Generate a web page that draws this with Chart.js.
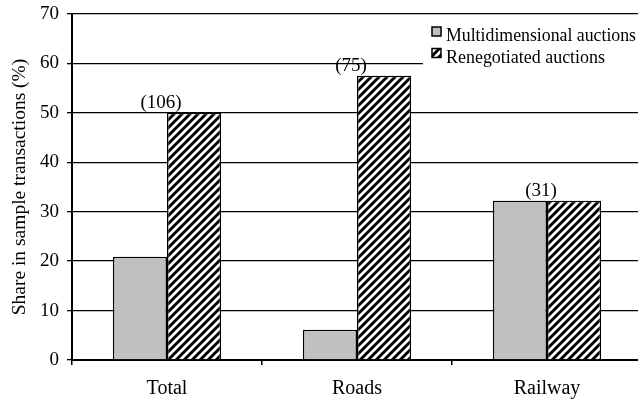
<!DOCTYPE html>
<html>
<head>
<meta charset="utf-8">
<script src="https://cdn.jsdelivr.net/npm/chart.js@4"></script>
<style>
  html, body { margin: 0; padding: 0; background: #fff; overflow: hidden; }
  #wrap { width: 642px; height: 403px; }
</style>
</head>
<body>
<div id="wrap"><canvas id="chart"></canvas></div>
<script>
// ===================
// Data
// ===================
const categories = ["Total", "Roads", "Railway"];
const multidimensional = [20.9, 6.1, 32.2];
const renegotiated = [50.0, 57.5, 32.2];
const sampleSizes = ["(106)", "(75)", "(31)"];
const seriesNames = ["Multidimensional auctions", "Renegotiated auctions"];
const yTicks = [0, 10, 20, 30, 40, 50, 60, 70];

const FONT = "'Liberation Serif', 'Times New Roman', serif";

// hatch pattern (diagonal /)
function makeHatch() {
  const n = 8;
  const c = document.createElement("canvas");
  c.width = n;
  c.height = n;
  const g = c.getContext("2d");
  g.fillStyle = "#fff";
  g.fillRect(0, 0, n, n);
  g.strokeStyle = "#000";
  g.lineWidth = 3;
  g.beginPath();
  g.moveTo(-2, n + 2); g.lineTo(n + 2, -2);
  g.moveTo(-2, 2); g.lineTo(2, -2);
  g.moveTo(n - 2, n + 2); g.lineTo(n + 2, n - 2);
  g.stroke();
  return g.createPattern(c, "repeat");
}
const hatch = makeHatch();
const fills = ["#c0c0c0", hatch];

// sample sizes above each pair
const countLabels = {
  id: "countLabels",
  afterDatasetsDraw(chart) {
    const ctx = chart.ctx;
    const x = chart.scales.x;
    const y = chart.scales.y;
    ctx.save();
    ctx.font = "19px " + FONT;
    ctx.fillStyle = "#000";
    ctx.textAlign = "center";
    ctx.textBaseline = "alphabetic";
    sampleSizes.forEach((s, i) => {
      const top = Math.max(multidimensional[i], renegotiated[i]);
      ctx.fillText(s, x.getPixelForValue(i) - 6, y.getPixelForValue(top) - 5);
    });
    ctx.restore();
  },
};

// legend box in upper right
const boxLegend = {
  id: "boxLegend",
  afterDraw(chart) {
    const ctx = chart.ctx;
    const widths = [190, 159];
    ctx.save();
    ctx.fillStyle = "#fff";
    ctx.fillRect(423, chart.chartArea.top + 2, 220, 51);
    ctx.font = "19px " + FONT;
    ctx.textAlign = "left";
    ctx.textBaseline = "alphabetic";
    seriesNames.forEach((name, i) => {
      const by = 27 + i * 21.5;
      ctx.fillStyle = fills[i];
      ctx.fillRect(432, by, 9, 9);
      ctx.strokeStyle = "#000";
      ctx.lineWidth = 1.5;
      ctx.strokeRect(432, by, 9, 9);
      ctx.fillStyle = "#000";
      ctx.fillText(name, 446, by + 14, widths[i]);
    });
    ctx.restore();
  },
};

new Chart(document.getElementById("chart"), {
  type: "bar",
  data: {
    labels: categories,
    datasets: [
      {
        label: seriesNames[0],
        data: multidimensional,
        backgroundColor: fills[0],
        borderColor: "#000",
        borderWidth: 1.5,
      },
      {
        label: seriesNames[1],
        data: renegotiated,
        backgroundColor: fills[1],
        borderColor: "#000",
        borderWidth: 1.5,
      },
    ],
  },
  options: {
    responsive: true,
    maintainAspectRatio: false,
    animation: false,
    categoryPercentage: 0.57,
    barPercentage: 1,
    layout: { padding: { top: 14, right: 0, left: 0, bottom: 0 } },
    plugins: {
      legend: { display: false },
      tooltip: { enabled: false },
    },
    scales: {
      x: {
        offset: true,
        afterFit: (s) => {
          s.height = 43;
          s.paddingLeft = 0;
          s.paddingRight = 0;
        },
        grid: {
          offset: true,
          drawOnChartArea: false,
          color: "#000",
          tickLength: 5,
          lineWidth: 1.5,
        },
        border: { color: "#000", width: 2 },
        ticks: {
          color: "#000",
          font: { family: FONT, size: 20 },
          padding: 12,
        },
      },
      y: {
        min: 0,
        max: 70,
        afterFit: (s) => {
          s.width = 72;
          s.paddingTop = 0;
          s.paddingBottom = 0;
        },
        afterBuildTicks: (s) => { s.ticks = yTicks.map((v) => ({ value: v })); },
        grid: { color: "#000", lineWidth: 1.3, tickLength: 5 },
        border: { color: "#000", width: 2 },
        ticks: {
          color: "#000",
          font: { family: FONT, size: 19 },
          padding: 8,
        },
        title: {
          display: true,
          text: "Share in sample transactions (%)",
          color: "#000",
          font: { family: FONT, size: 19.5 },
          padding: { top: 8, bottom: 4 },
        },
      },
    },
  },
  plugins: [countLabels, boxLegend],
});
</script>
</body>
</html>
